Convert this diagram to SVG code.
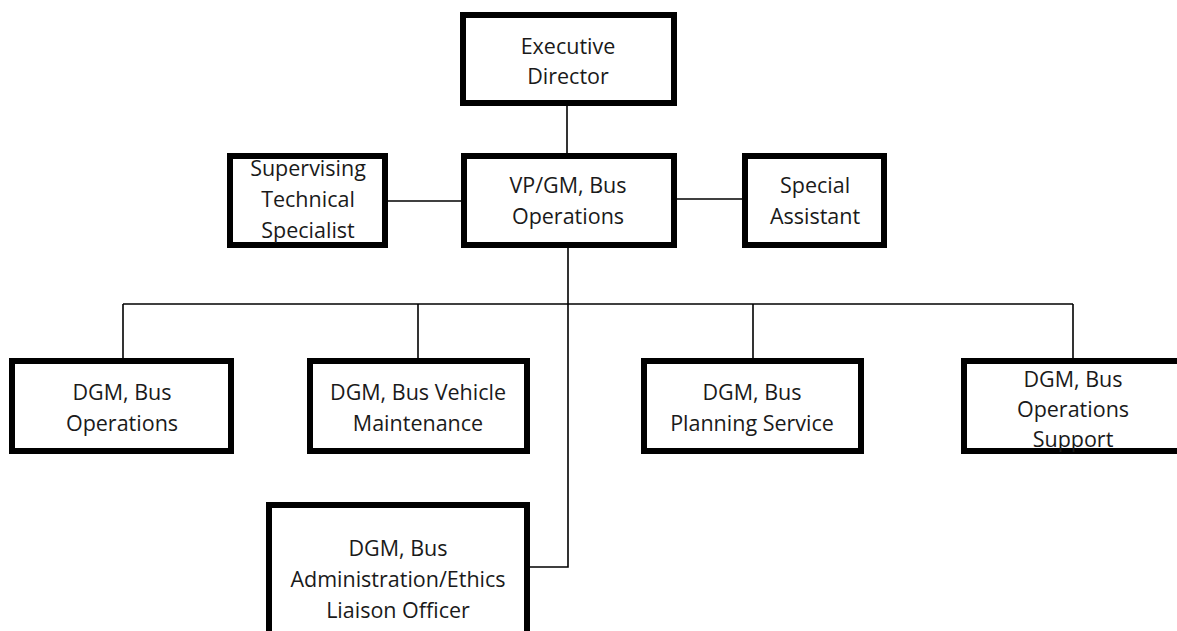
<svg xmlns="http://www.w3.org/2000/svg" width="1177" height="631" viewBox="0 0 1177 631">
<style>
.box{fill:#fff;stroke:#000;stroke-width:6}
.t{font-family:"Open Sans","Liberation Sans",sans-serif;font-size:21.5px;fill:#1a1a1a;text-anchor:middle}
.c{stroke:#000;stroke-width:1.6;fill:none}
</style>
<rect width="1177" height="631" fill="#fff"/>
<g id="connectors">
<line class="c" x1="567" y1="106" x2="567" y2="153"/>
<line class="c" x1="388" y1="201" x2="461" y2="201"/>
<line class="c" x1="677" y1="199" x2="742" y2="199"/>
<polyline class="c" points="568,248 568,567 530,567"/>
<line class="c" x1="123" y1="304" x2="1073" y2="304"/>
<line class="c" x1="123" y1="304" x2="123" y2="358"/>
<line class="c" x1="418" y1="304" x2="418" y2="358"/>
<line class="c" x1="753" y1="304" x2="753" y2="358"/>
<line class="c" x1="1073" y1="304" x2="1073" y2="358"/>
</g>
<g id="exec">
<rect class="box" x="463" y="15" width="211" height="88"/>
<text class="t" x="568" y="54">Executive</text>
<text class="t" x="568" y="84">Director</text>
</g>
<g id="vpgm">
<rect class="box" x="464" y="156" width="210" height="89"/>
<text class="t" x="568" y="193">VP/GM, Bus</text>
<text class="t" x="568" y="224">Operations</text>
</g>
<g id="supervising">
<rect class="box" x="230" y="156" width="155" height="89"/>
<text class="t" x="308" y="176">Supervising</text>
<text class="t" x="308" y="207">Technical</text>
<text class="t" x="308" y="238">Specialist</text>
</g>
<g id="special">
<rect class="box" x="745" y="156" width="139" height="89"/>
<text class="t" x="815" y="193">Special</text>
<text class="t" x="815" y="224">Assistant</text>
</g>
<g id="dgm-ops">
<rect class="box" x="12" y="361" width="219" height="90"/>
<text class="t" x="122" y="400">DGM, Bus</text>
<text class="t" x="122" y="431">Operations</text>
</g>
<g id="dgm-vehicle">
<rect class="box" x="310" y="361" width="217" height="90"/>
<text class="t" x="418" y="400">DGM, Bus Vehicle</text>
<text class="t" x="418" y="431">Maintenance</text>
</g>
<g id="dgm-planning">
<rect class="box" x="644" y="361" width="217" height="90"/>
<text class="t" x="752" y="400">DGM, Bus</text>
<text class="t" x="752" y="431">Planning Service</text>
</g>
<g id="dgm-support">
<rect class="box" x="964" y="361" width="222" height="90"/>
<text class="t" x="1073" y="387">DGM, Bus</text>
<text class="t" x="1073" y="417">Operations</text>
<text class="t" x="1073" y="447">Support</text>
</g>
<g id="dgm-admin">
<rect class="box" x="269" y="505" width="258" height="140"/>
<text class="t" x="398" y="556">DGM, Bus</text>
<text class="t" x="398" y="587">Administration/Ethics</text>
<text class="t" x="398" y="618">Liaison Officer</text>
</g>
</svg>
